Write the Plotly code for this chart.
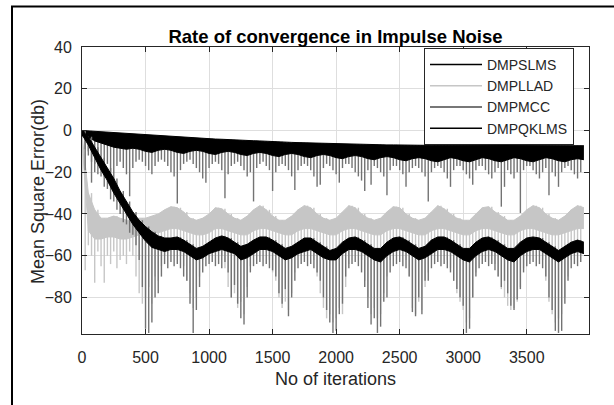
import plotly.graph_objects as go

# ---------------- data ----------------
series_names = ["DMPSLMS", "DMPLLAD", "DMPMCC", "DMPQKLMS"]

iterations_env = list(range(0, 4000, 50))   # band envelopes, every 50 iterations (80)
iterations_spk = list(range(0, 3950, 25))   # spike samples, every 25 iterations (158)

x_ticks = [0, 500, 1000, 1500, 2000, 2500, 3000, 3500]
y_ticks = [-80, -60, -40, -20, 0, 20, 40]

# DMPSLMS : dense black band (upper / lower edge, dB)
slms_hi = [0, -0.2, -0.5, -0.7, -1.0, -1.2, -1.4, -1.6, -1.8, -2.0,
           -2.2, -2.4, -2.6, -2.8, -3.0, -3.1, -3.3, -3.5, -3.6, -3.8,
           -3.9, -4.1, -4.2, -4.4, -4.5, -4.7, -4.8, -4.9, -5.0, -5.2,
           -5.3, -5.4, -5.5, -5.7, -5.8, -5.9, -6.0, -6.1, -6.2, -6.3,
           -6.4, -6.5, -6.5, -6.6, -6.7, -6.7, -6.8, -6.8, -6.9, -6.9,
           -7.0, -7.0, -7.0, -7.0, -7.1, -7.1, -7.1, -7.1, -7.1, -7.2,
           -7.2, -7.2, -7.2, -7.2, -7.2, -7.2, -7.3, -7.3, -7.3, -7.3,
           -7.3, -7.3, -7.3, -7.3, -7.3, -7.3, -7.3, -7.3, -7.3, -7.3]
slms_lo = [-0.5, -3, -5, -6, -7, -8, -8.5, -9, -8.5, -9,
           -10, -10.5, -9.5, -9, -9.5, -10.5, -11, -10, -9.5, -10,
           -11, -11.5, -10.5, -10, -10.5, -11.5, -12, -11, -10.5, -11,
           -12, -12.5, -11.5, -11, -11.5, -12.5, -13, -12, -11.5, -12,
           -13, -13.5, -12.5, -12, -12.5, -13.5, -14, -13, -12.5, -13,
           -14, -14.5, -13.5, -13, -13.5, -14.5, -15, -14, -13, -13.5,
           -14.5, -15, -14, -13, -13.5, -14.5, -15, -14, -13, -13.5,
           -14.5, -15, -14, -13, -13.5, -14.5, -15, -14, -13.5, -14]

# DMPMCC : spike tips below the top band (dB)
mcc_tip = [-3, -19, -12, -25, -20, -14, -18, -22,
           -16, -20, -25, -17, -15, -18, -21, -31.5,
           -18, -15, -14, -15, -17, -19, -21, -17,
           -15, -14, -15, -17, -20, -22, -35, -19,
           -16, -15, -14, -16, -18, -20, -23, -25,
           -18, -16, -15, -16, -19, -32.5, -21, -17,
           -16, -15, -17, -19, -22, -20, -34, -18,
           -16, -15, -17, -19, -29, -20, -17, -16,
           -17, -19, -22, -28.5, -19, -17, -16, -17,
           -19, -22, -27, -26, -18, -16, -17, -19,
           -21, -25, -18, -16, -16, -18, -20, -22,
           -24, -29, -19, -26, -17, -18, -20, -22,
           -31, -19, -17, -17, -19, -21, -27, -20,
           -18, -17, -18, -20, -22, -34, -20, -18,
           -17, -18, -20, -23, -27, -19, -17, -17,
           -19, -21, -23, -26, -19, -17, -17, -19,
           -21, -23, -20, -18, -36.5, -27, -19, -21,
           -23, -20, -39.5, -19, -17, -17, -19, -21,
           -23, -20, -18, -31, -20, -22, -27, -20,
           -18, -17, -19, -21, -23, -20]

# DMPLLAD : light grey band (upper / lower edge) and spike tips (dB)
llad_hi = [-2, -30, -38, -42, -42, -41, -42, -43, -43, -42,
           -42, -41, -40, -38, -36.5, -37, -39, -42, -43, -42,
           -40, -37, -37.5, -40, -42, -43, -41, -38, -36, -38,
           -41, -43, -43, -41, -38, -36, -37, -40, -42, -43,
           -42, -39, -36, -37, -40, -42, -43, -42, -39, -36.5,
           -37, -40, -42, -43, -42, -39, -36, -37.5, -40, -42,
           -43, -43, -40, -37, -36.5, -39, -41, -43, -43, -41,
           -38, -36, -37, -40, -42, -43, -41, -38, -36, -37]
llad_lo = [-5, -48, -52, -52, -51, -51, -52, -52, -51, -50,
           -50, -49, -49, -48, -47, -47, -48, -49, -50, -50,
           -49, -47, -47, -48, -49, -50, -50, -48, -47, -47,
           -48, -49, -50, -50, -48, -47, -47, -48, -49, -50,
           -50, -48, -47, -47, -48, -49, -50, -50, -48, -47,
           -47, -48, -49, -50, -50, -48, -47, -47, -48, -49,
           -50, -50, -48, -47, -47, -48, -49, -50, -50, -48,
           -47, -47, -48, -49, -50, -50, -49, -48, -47, -47]
llad_tip = [-40, -67, -55, -60, -73, -58, -65, -73,
            -60, -64, -58, -66, -62, -60, -64, -58,
            -60, -70, -78, -83, -80, -75, -83, -70,
            -72, -65, -60, -58, -57, -56, -58, -60,
            -65, -72, -78, -85, -80, -70, -62, -58,
            -57, -56, -56, -58, -60, -66, -75, -80,
            -78, -85, -82, -88, -75, -65, -58, -57,
            -56, -56, -58, -62, -68, -72, -80, -85,
            -82, -86, -78, -68, -60, -57, -56, -57,
            -58, -62, -70, -78, -85, -90, -88, -92,
            -90, -85, -88, -75, -64, -58, -56, -57,
            -62, -72, -80, -88, -85, -90, -88, -78,
            -70, -62, -58, -56, -57, -58, -62, -70,
            -85, -88, -82, -86, -75, -68, -60, -57,
            -56, -57, -58, -62, -66, -72, -78, -82,
            -86, -92, -90, -80, -68, -60, -57, -56,
            -57, -60, -64, -70, -76, -80, -84, -86,
            -85, -82, -75, -66, -60, -57, -56, -57,
            -58, -62, -72, -82, -88, -92, -90, -88,
            -80, -70, -62, -58, -57, -58]

# DMPQKLMS : black band (upper / lower edge) and spike tips (dB)
qk_hi = [0, -3, -8, -13, -18, -23, -29, -34, -39, -43,
         -46, -48.5, -50.5, -51.5, -51.5, -51, -52.5, -54.5, -56.5, -55.5,
         -53.5, -51.5, -50.5, -51.5, -53.5, -55.5, -54.5, -52.5, -51, -51,
         -52.5, -54.5, -56.5, -55.5, -53.5, -51.5, -51.5, -53.5, -55.5, -57.5,
         -56.5, -53.5, -51.5, -51, -52.5, -54.5, -56.5, -56.5, -53.5, -51.5,
         -51, -52.5, -54.5, -56.5, -55.5, -52.5, -51, -51, -52.5, -54.5,
         -56.5, -56.5, -53.5, -51.5, -51, -52.5, -54.5, -56.5, -56.5, -53.5,
         -51.5, -51, -51.5, -53.5, -55.5, -57.5, -55.5, -53.5, -52.5, -53.5]
qk_lo = [-2, -7, -13, -19, -24, -30, -35, -40, -45, -49,
         -53, -56, -57, -58, -57, -57, -58, -60, -62, -61,
         -59, -58, -57, -58, -59, -62, -61, -59, -57, -57,
         -58, -60, -62, -61, -59, -58, -57, -59, -61, -62,
         -62, -59, -57, -57, -58, -60, -62, -63, -60, -58,
         -57, -58, -60, -62, -61, -59, -57, -57, -58, -60,
         -62, -63, -60, -58, -57, -58, -60, -62, -63, -60,
         -58, -57, -57, -59, -61, -63, -61, -59, -58, -59]
qk_tip = [-3, -9, -10, -15, -16, -21, -22, -27,
          -28, -33, -34, -38, -40, -44, -45, -49,
          -50, -55, -62, -75, -95, -97, -92, -80,
          -78, -70, -64, -66, -63, -65, -64, -66,
          -70, -72, -83, -97, -86, -75, -68, -65,
          -64, -63, -65, -64, -66, -63, -68, -80,
          -74, -83, -90, -93, -80, -68, -65, -64,
          -63, -65, -64, -66, -67, -70, -78, -83,
          -76, -89, -80, -72, -66, -64, -63, -65,
          -64, -66, -68, -72, -80, -86, -92, -97,
          -96, -88, -83, -70, -66, -64, -63, -65,
          -68, -75, -85, -93, -90, -97, -94, -82,
          -80, -68, -65, -64, -63, -65, -66, -70,
          -87, -89, -80, -88, -72, -72, -66, -64,
          -63, -65, -64, -66, -68, -72, -76, -80,
          -84, -97, -95, -80, -70, -66, -64, -63,
          -65, -64, -67, -70, -75, -72, -78, -84,
          -86, -81, -76, -68, -65, -64, -63, -65,
          -64, -66, -70, -80, -86, -96, -97, -96,
          -83, -72, -66, -64, -65, -63]

# ---------------- styling ----------------
FONT = "Liberation Sans, Arial, Helvetica, sans-serif"
AX = "#262626"
C_BLACK = "#000000"
C_LIGHT = "#c6c6c6"
C_DARK = "#737373"
legend_colors = [C_BLACK, C_LIGHT, "#4a4a4a", C_BLACK]


def spike_path(tips, starts):
    xs, ys = [], []
    for i, (xv, tv) in enumerate(zip(iterations_spk, tips)):
        s = starts[min(i // 2, len(starts) - 1)]
        xs += [xv, xv, None]
        ys += [s, tv, None]
    return xs, ys


fig = go.Figure()


def add_band(hi, lo, color):
    fig.add_trace(go.Scatter(x=iterations_env, y=hi, mode="lines",
                             line=dict(color=color, width=1),
                             showlegend=False, hoverinfo="skip"))
    fig.add_trace(go.Scatter(x=iterations_env, y=lo, mode="lines",
                             line=dict(color=color, width=1),
                             fill="tonexty", fillcolor=color,
                             showlegend=False, hoverinfo="skip"))


def add_spikes(tips, starts, color):
    xs, ys = spike_path(tips, starts)
    fig.add_trace(go.Scatter(x=xs, y=ys, mode="lines",
                             line=dict(color=color, width=1.4),
                             connectgaps=False,
                             showlegend=False, hoverinfo="skip"))


# DMPLLAD
add_spikes(llad_tip, llad_hi, C_LIGHT)
add_band(llad_hi, llad_lo, C_LIGHT)
# DMPMCC spikes under DMPSLMS band
add_spikes(mcc_tip, slms_hi, C_DARK)
add_band(slms_hi, slms_lo, C_BLACK)
# DMPQKLMS
add_spikes(qk_tip, qk_hi, C_DARK)
add_band(qk_hi, qk_lo, C_BLACK)

# legend entries
for name, col in zip(series_names, legend_colors):
    fig.add_trace(go.Scatter(x=[None], y=[None], mode="lines", name=name,
                             line=dict(color=col, width=1.5)))

# ---------------- layout ----------------
L, R, T, B = 82, 25, 47, 71
W, H = 614, 405
PW, PH = W - L - R, H - T - B


def px_x(p):
    return (p - L) / PW


def px_y(p):
    return (H - B - p) / PH


fig.update_layout(
    width=W, height=H,
    margin=dict(l=L, r=R, t=T, b=B, pad=0),
    paper_bgcolor="white", plot_bgcolor="white",
    font=dict(family=FONT, color=AX, size=16),
    hovermode=False,
    title=dict(text="Rate of convergence in Impulse Noise",
               font=dict(family=FONT, size=18.5, color="#000000", weight="bold"),
               x=0.5, xref="paper", xanchor="center",
               y=1 - 37 / H, yref="container", yanchor="middle"),
    showlegend=True,
    legend=dict(x=px_x(424), y=px_y(48), xanchor="left", yanchor="top",
                traceorder="normal",
                bgcolor="white", bordercolor=AX, borderwidth=1,
                font=dict(family=FONT, size=14, color=AX),
                tracegroupgap=0, itemwidth=52),
    xaxis=dict(range=[0, 3990], tickvals=x_ticks,
               showgrid=True, gridcolor="#dedede", gridwidth=1,
               zeroline=False, showline=True, linecolor=AX, linewidth=1,
               mirror="allticks", ticks="inside", ticklen=5, tickcolor=AX,
               ticklabelstandoff=9,
               tickfont=dict(family=FONT, size=16, color=AX)),
    yaxis=dict(range=[-97.5, 40], tickvals=y_ticks,
               showgrid=True, gridcolor="#dedede", gridwidth=1,
               zeroline=False, showline=True, linecolor=AX, linewidth=1,
               mirror="allticks", ticks="inside", ticklen=5, tickcolor=AX,
               ticklabelstandoff=6,
               tickfont=dict(family=FONT, size=16, color=AX)),
    annotations=[
        dict(text="No of iterations", xref="paper", yref="paper",
             x=0.5, y=px_y(379), xanchor="center", yanchor="middle",
             showarrow=False, font=dict(family=FONT, size=18, color=AX)),
        dict(text="Mean Square Error(db)", xref="paper", yref="paper",
             x=px_x(38), y=px_y(192), xanchor="center", yanchor="middle",
             textangle=-90, showarrow=False,
             font=dict(family=FONT, size=18, color=AX)),
    ],
    shapes=[
        dict(type="line", xref="paper", yref="paper",
             x0=px_x(12), x1=px_x(12), y0=px_y(6), y1=px_y(406),
             line=dict(color="black", width=2)),
        dict(type="line", xref="paper", yref="paper",
             x0=px_x(11), x1=px_x(615), y0=px_y(6.5), y1=px_y(6.5),
             line=dict(color="black", width=2)),
    ],
)

fig.write_html("out.html", config={"displayModeBar": False, "staticPlot": True})

# remove the browser's default page margin so the figure sits at (0, 0)
with open("out.html", encoding="utf-8") as f:
    html = f.read()
html = html.replace("<head>", "<head><style>html,body{margin:0;padding:0;overflow:hidden;}</style>", 1)
with open("out.html", "w", encoding="utf-8") as f:
    f.write(html)
